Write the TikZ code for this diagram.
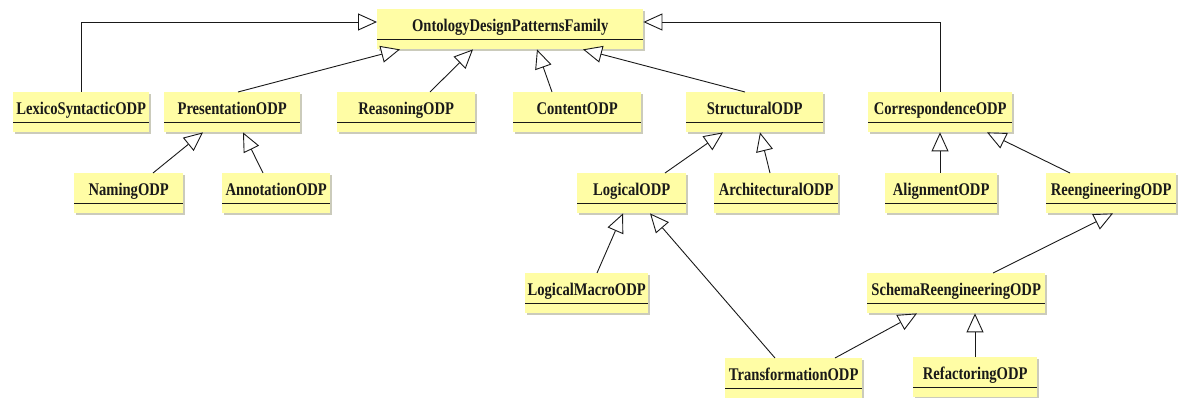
\documentclass[tikz,border=0pt]{standalone}
\usepackage{fontspec}
\setmainfont{Liberation Serif}
\newfontfamily\clsfont[FakeStretch=0.82]{Liberation Serif}
\usetikzlibrary{arrows.meta,calc,shadows}
\definecolor{clsfill}{RGB}{255,253,165}
\definecolor{clsshadow}{RGB}{190,190,170}
\definecolor{ink}{RGB}{25,25,25}
\tikzset{
  cls/.style={anchor=north west, minimum height=40pt, inner sep=0pt,
    fill=clsfill, text=ink, text height=15pt, text depth=11pt,
    font=\clsfont\fontsize{17.8}{19}\selectfont\bfseries,
    drop shadow={shadow xshift=2pt, shadow yshift=-2pt, fill=clsshadow, opacity=0.8},
    path picture={\draw[ink, line width=1.2pt]
      ([yshift=-30pt]path picture bounding box.north west) --
      ([yshift=-30pt]path picture bounding box.north east);}},
  inh/.style={draw=ink, line width=0.9pt,
    -{Triangle[length=19pt, width=17pt, fill=white, line width=0.9pt]}}
}
\begin{document}
\begin{tikzpicture}[x=1pt, y=-1pt]
\useasboundingbox[fill=white] (0,0) rectangle (1179,398);
% classes
\node[cls, minimum width=266pt] (fam) at (377,9) {OntologyDesignPatternsFamily};
\node[cls, minimum width=136pt] (lex) at (13,92) {LexicoSyntacticODP};
\node[cls, minimum width=136pt] (pres) at (164,92) {PresentationODP};
\node[cls, minimum width=138pt] (reas) at (337,92) {ReasoningODP};
\node[cls, minimum width=128pt] (cont) at (513,92) {ContentODP};
\node[cls, minimum width=137pt] (struc) at (686,92) {StructuralODP};
\node[cls, minimum width=144pt] (corr) at (868,92) {CorrespondenceODP};
\node[cls, minimum width=109pt] (nam) at (74,173) {NamingODP};
\node[cls, minimum width=108pt] (ann) at (222,173) {AnnotationODP};
\node[cls, minimum width=109pt] (log) at (577,173) {LogicalODP};
\node[cls, minimum width=124pt] (arch) at (714,173) {ArchitecturalODP};
\node[cls, minimum width=112pt] (align) at (885,173) {AlignmentODP};
\node[cls, minimum width=130pt] (reeng) at (1046,173) {ReengineeringODP};
\node[cls, minimum width=123pt] (lmac) at (525,273) {LogicalMacroODP};
\node[cls, minimum width=178pt] (schema) at (867,273) {SchemaReengineeringODP};
\node[cls, minimum width=137pt] (trans) at (725,358) {TransformationODP};
\node[cls, minimum width=124pt] (refac) at (913,357) {RefactoringODP};
% generalisations
\draw[inh] ($(lex.north west)+(68,0)$) |- ($(fam.north west)+(0,13)$);
\draw[inh] ($(corr.north west)+(72,0)$) |- ($(fam.north east)+(0,13)$);
\draw[inh] ($(pres.north west)+(74,0)$) -- ($(fam.south west)+(23,0)$);
\draw[inh] ($(reas.north west)+(93,0)$) -- ($(fam.south west)+(96,0)$);
\draw[inh] ($(cont.north west)+(39,0)$) -- ($(fam.south west)+(160,0)$);
\draw[inh] ($(struc.north west)+(59,0)$) -- ($(fam.south west)+(206,0)$);
\draw[inh] ($(nam.north west)+(79,0)$) -- ($(pres.south west)+(39,0)$);
\draw[inh] ($(ann.north west)+(41,0)$) -- ($(pres.south west)+(79,0)$);
\draw[inh] ($(log.north west)+(88,0)$) -- ($(struc.south west)+(37,0)$);
\draw[inh] ($(arch.north west)+(56,0)$) -- ($(struc.south west)+(74,0)$);
\draw[inh] ($(align.north west)+(55,0)$) -- ($(corr.south west)+(72,0)$);
\draw[inh] ($(reeng.north west)+(24,0)$) -- ($(corr.south west)+(119,0)$);
\draw[inh] ($(lmac.north west)+(72,0)$) -- ($(log.south west)+(46,0)$);
\draw[inh] ($(trans.north west)+(50,0)$) -- ($(log.south west)+(73,0)$);
\draw[inh] ($(trans.north west)+(110,0)$) -- ($(schema.south west)+(50,0)$);
\draw[inh] ($(refac.north west)+(62,0)$) -- ($(schema.south west)+(108,0)$);
\draw[inh] ($(schema.north west)+(126,0)$) -- ($(reeng.south west)+(67,0)$);
\end{tikzpicture}
\end{document}
